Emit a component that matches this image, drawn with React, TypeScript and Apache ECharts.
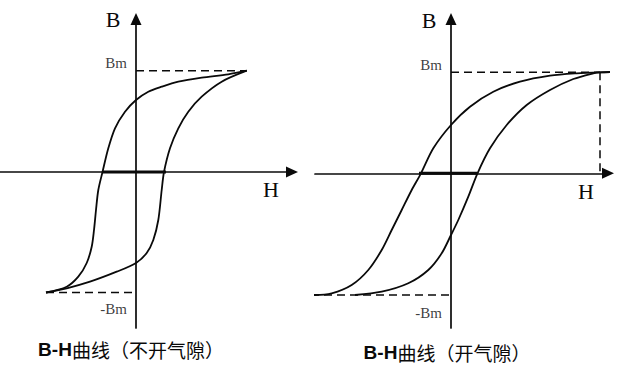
import React, { useEffect, useRef } from "react";
import * as echarts from "echarts";

// ---- Left chart: B-H curve without air gap (units: H, B with Bm ≈ 1) ----
const leftUpperH = [1.107, 0.923, 0.657, 0.423, 0.257, 0.123, 0, -0.11, -0.21, -0.277, -0.335, -0.377, -0.4, -0.42, -0.443, -0.493, -0.577, -0.693, -0.9];
const leftUpperB = [1.013, 0.977, 0.943, 0.903, 0.853, 0.803, 0.72, 0.603, 0.437, 0.237, 0, -0.18, -0.38, -0.58, -0.747, -0.91, -1.047, -1.147, -1.205];
const leftLowerH = [-0.9, -0.693, -0.46, -0.193, 0, 0.107, 0.173, 0.223, 0.257, 0.28, 0.34, 0.423, 0.523, 0.657, 0.857, 1.107];
const leftLowerB = [-1.205, -1.163, -1.097, -0.997, -0.91, -0.81, -0.68, -0.48, -0.18, 0, 0.237, 0.437, 0.603, 0.753, 0.903, 1.013];
const leftBm = 1.013;
const leftNegBm = -1.205;
const leftHm = 1.107;
const leftHneg = -0.9;
const leftCoercive = [-0.34, 0.3];

// ---- Right chart: B-H curve with air gap ----
const rightUpperH = [1.77, 1.49, 1.257, 0.99, 0.69, 0.423, 0.19, 0, -0.177, -0.3, -0.393, -0.493, -0.593, -0.693, -0.827, -0.993, -1.193, -1.36, -1.53];
const rightUpperB = [1.016, 1.01, 1.0, 0.976, 0.916, 0.816, 0.666, 0.483, 0.25, 0, -0.167, -0.367, -0.567, -0.767, -0.967, -1.117, -1.2, -1.217, -1.217];
const rightLowerH = [-0.96, -0.693, -0.427, -0.227, -0.093, 0, 0.073, 0.173, 0.265, 0.39, 0.557, 0.757, 0.99, 1.223, 1.423, 1.49, 1.77];
const rightLowerB = [-1.217, -1.184, -1.1, -0.967, -0.8, -0.617, -0.467, -0.234, 0, 0.25, 0.483, 0.683, 0.833, 0.943, 1.0, 1.01, 1.016];
const rightBm = 1.01;
const rightNegBm = -1.217;
const rightHm = 1.49;
const rightHneg = -1.66;
const rightCoercive = [-0.32, 0.26];

const bmLabels = ["Bm", "-Bm"];
const titles = ["B-H", "曲线（不开气隙）", "曲线（开气隙）"];

const zip = (xs: number[], ys: number[]) => xs.map((x, i) => [x, ys[i]]);

const INK = "#0a0a0a";
const SERIF = "'Liberation Serif', 'DejaVu Serif', serif";

export default function App() {
  const ref = useRef<HTMLDivElement>(null);
  useEffect(() => {
    if (!ref.current) return;
    const chart = echarts.init(ref.current, undefined, { renderer: "svg" });

    const axisCommon = {
      type: "value" as const,
      axisTick: { show: false },
      axisLabel: { show: false },
      splitLine: { show: false },
    };
    const axisLine = {
      onZero: true,
      symbol: ["none", "triangle"],
      symbolSize: [11, 12],
      lineStyle: { color: INK, width: 1.7 },
    };
    const curve = (data: number[][], gi: number) => ({
      type: "line",
      xAxisIndex: gi,
      yAxisIndex: gi,
      data,
      smooth: 0.3,
      symbol: "none",
      clip: false,
      silent: true,
      lineStyle: { color: INK, width: 1.8 },
      z: 3,
    });
    const dashed = (data: number[][], gi: number) => ({
      type: "line",
      xAxisIndex: gi,
      yAxisIndex: gi,
      data,
      symbol: "none",
      clip: false,
      silent: true,
      lineStyle: { color: INK, width: 1.5, type: [8, 5] },
      z: 2,
    });
    const thick = (data: number[][], gi: number) => ({
      type: "line",
      xAxisIndex: gi,
      yAxisIndex: gi,
      data,
      symbol: "none",
      clip: false,
      silent: true,
      lineStyle: { color: INK, width: 3 },
      z: 4,
    });
    const bmLabel = (gi: number, bm: number, neg: number, offUp: number, offDown: number) => ({
      type: "scatter",
      xAxisIndex: gi,
      yAxisIndex: gi,
      symbolSize: 0,
      silent: true,
      data: [
        { value: [0, bm], label: { formatter: bmLabels[0], offset: [0, offUp] } },
        { value: [0, neg], label: { formatter: bmLabels[1], offset: [0, offDown] } },
      ],
      label: {
        show: true,
        position: "left",
        distance: 9,
        color: INK,
        fontFamily: SERIF,
        fontSize: 15,
      },
    });

    const letter = (text: string, x: number, y: number) => ({
      type: "text",
      x,
      y,
      silent: true,
      style: {
        text,
        fill: INK,
        font: `22px ${SERIF}`,
        align: "center",
        verticalAlign: "middle",
      },
    });
    const titleText = (text: string, x: number, y: number) => ({
      type: "text",
      x,
      y,
      silent: true,
      style: {
        text: `{b|${titles[0]}}{n|${text}}`,
        align: "center",
        verticalAlign: "middle",
        rich: {
          b: { fontFamily: "'Liberation Sans', Arial, sans-serif", fontWeight: "bold", fontSize: 19, fill: INK, color: INK },
          n: { fontFamily: "'Noto Sans CJK SC', sans-serif", fontSize: 19, fill: INK, color: INK },
        },
      },
    });

    chart.setOption({
      animation: false,
      backgroundColor: "#fff",
      grid: [
        { left: 0, top: 19, width: 292, height: 309, outerBoundsMode: "none", containLabel: false },
        { left: 315, top: 19, width: 293, height: 309, outerBoundsMode: "none", containLabel: false },
      ],
      xAxis: [
        { ...axisCommon, gridIndex: 0, min: -1.36, max: 1.56, axisLine },
        { ...axisCommon, gridIndex: 1, min: -1.36, max: 1.57, axisLine },
      ],
      yAxis: [
        { ...axisCommon, gridIndex: 0, min: -1.56, max: 1.53, axisLine },
        { ...axisCommon, gridIndex: 1, min: -1.547, max: 1.543, axisLine },
      ],
      series: [
        dashed([[0, leftBm], [leftHm, leftBm]], 0),
        dashed([[leftHneg, leftNegBm], [0, leftNegBm]], 0),
        curve(zip(leftUpperH, leftUpperB), 0),
        curve(zip(leftLowerH, leftLowerB), 0),
        thick([[leftCoercive[0], 0], [leftCoercive[1], 0]], 0),
        bmLabel(0, leftBm, leftNegBm, -8, 16),

        dashed([[0, rightBm], [rightHm, rightBm]], 1),
        dashed([[rightHm, rightBm], [rightHm, 0]], 1),
        dashed([[rightHneg, rightNegBm], [0, rightNegBm]], 1),
        curve(zip(rightUpperH, rightUpperB), 1),
        curve(zip(rightLowerH, rightLowerB), 1),
        thick([[rightCoercive[0], 0], [rightCoercive[1], 0]], 1),
        bmLabel(1, rightBm, rightNegBm, -7, 18),
      ],
      graphic: [
        letter("B", 113, 19),
        letter("H", 271, 189),
        letter("B", 429, 20),
        letter("H", 586, 191),
        titleText(titles[1], 131, 349),
        titleText(titles[2], 447, 352),
      ],
    });
    return () => chart.dispose();
  }, []);
  return (
    <div
      ref={ref}
      style={{ position: "absolute", left: 0, top: 0, width: 629, height: 367 }}
    />
  );
}
